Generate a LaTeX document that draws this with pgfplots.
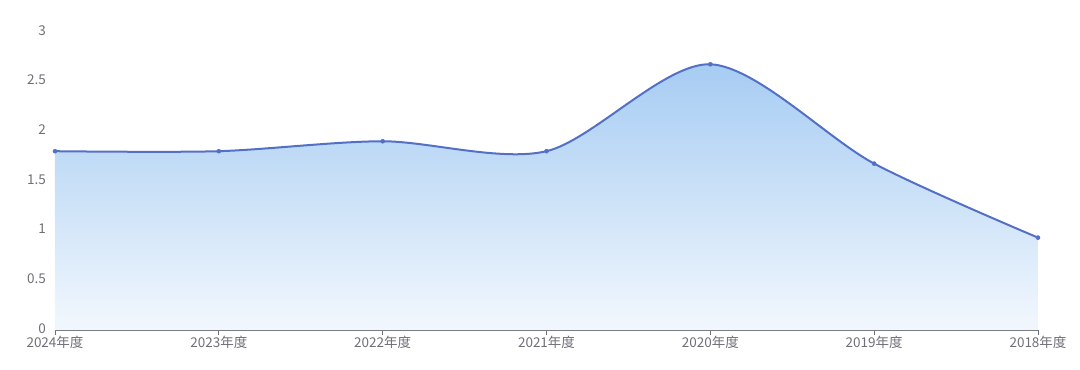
\documentclass[border=0pt]{standalone}
\usepackage{fontspec}
\setmainfont{Noto Sans CJK SC}
\usepackage{pgfplots}
\pgfplotsset{compat=1.18}
\definecolor{linec}{HTML}{5470C6}
\definecolor{gridc}{HTML}{E0E6F1}
\definecolor{labc}{HTML}{6E7079}
\definecolor{topc}{RGB}{150,195,240}
\definecolor{botc}{RGB}{240,246,253}
\begin{document}
\begin{tikzpicture}
\useasboundingbox (-55bp,-40bp) rectangle (1025bp,330bp);
\begin{axis}[
  at={(0,0)}, anchor=south west,
  scale only axis, width=983bp, height=298bp,
  xmin=0, xmax=6, ymin=0, ymax=3,
  xtick={0,...,6},
  xticklabels={2024年度,2023年度,2022年度,2021年度,2020年度,2019年度,2018年度},
  ytick={0,0.5,1,1.5,2,2.5,3},
  yticklabels={},
  axis x line*=bottom,
  axis y line=none,
  ymajorgrids=true,
  grid style={gridc, line width=0.8bp},
  x axis line style={labc, line width=0.8bp, -},
  xtick style={labc, line width=0.8bp},
  major tick length=5bp,
  tick align=outside,
  ytick style={draw=none},
  ticklabel style={font=\fontsize{13.5bp}{15bp}\selectfont, text=labc},
  xticklabel style={yshift=2bp},
  clip=false,
  /pgf/number format/assume math mode=true,
]
\addplot[draw=none, smooth, tension=0.5, top color=topc, bottom color=botc, fill opacity=0.85] coordinates {
 (0,1.8) (1,1.8) (2,1.9) (3,1.8) (4,2.675) (5,1.675) (6,0.93)
} \closedcycle;
\addplot[linec, line width=2bp, smooth, tension=0.5, mark=*, mark size=2bp, mark options={fill=linec, line width=0.5bp}] coordinates {
 (0,1.8) (1,1.8) (2,1.9) (3,1.8) (4,2.675) (5,1.675) (6,0.93)
};
\foreach \v/\t in {0/0,0.5/0.5,1/1,1.5/1.5,2/2,2.5/2.5,3/3}{
  \edef\tmp{\noexpand\node[anchor=east, text=labc, font=\noexpand\fontsize{13.5bp}{15bp}\noexpand\selectfont, inner sep=0pt] at (axis cs:0,\v) [xshift=-9bp, yshift=1.5bp] {\t};}
  \tmp
}
\end{axis}
\end{tikzpicture}
\end{document}
